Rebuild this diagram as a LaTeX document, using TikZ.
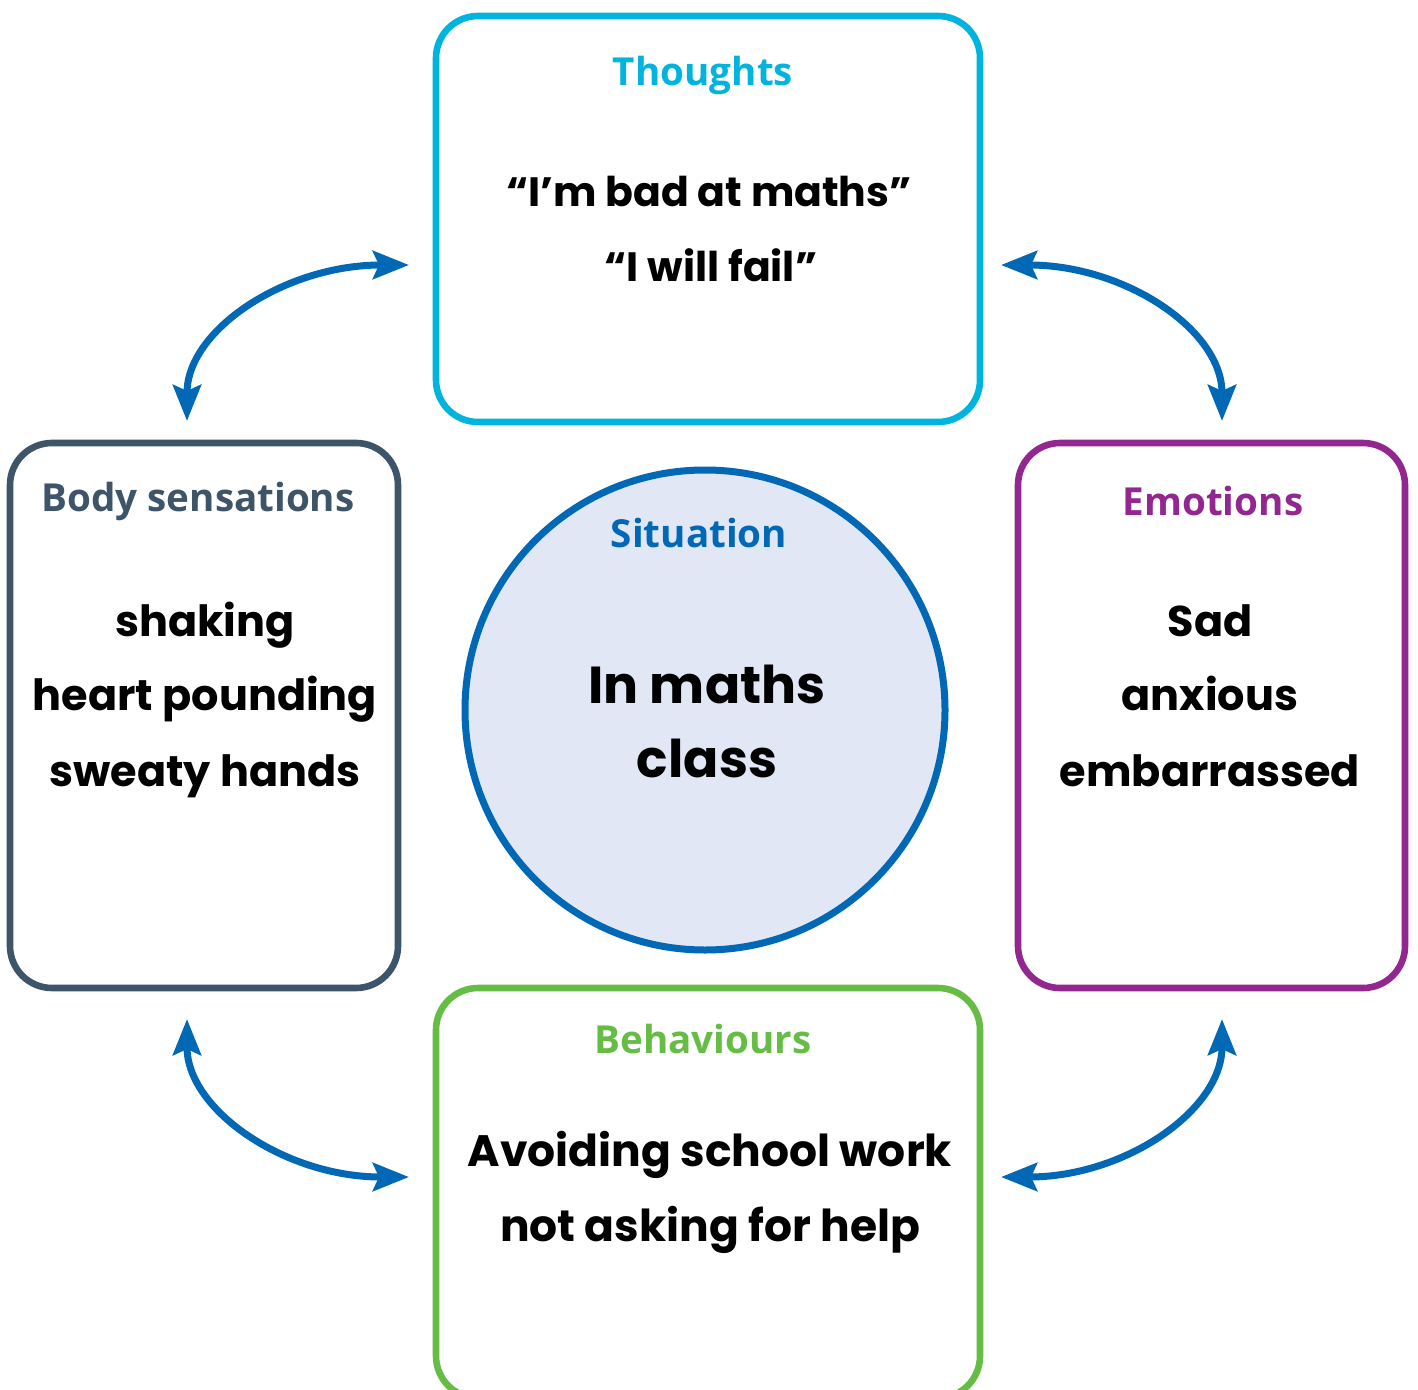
\documentclass[tikz,border=0pt]{standalone}
\usepackage{fontspec}
\setmainfont{Open Sans}
\newfontfamily\handfont{Poppins}
\usetikzlibrary{arrows.meta}
\definecolor{thoughtc}{HTML}{00B4DE}
\definecolor{bodyc}{HTML}{3E5468}
\definecolor{emoc}{HTML}{92278F}
\definecolor{behc}{HTML}{66BD45}
\definecolor{sitc}{HTML}{0068B5}
\definecolor{sitfill}{HTML}{E1E7F5}
\begin{document}
\begin{tikzpicture}[x=0.5pt,y=-0.5pt,
  box/.style={draw, line width=3.3pt, rounded corners=21pt, fill=white, inner sep=0pt},
  head/.style={font=\fontsize{19.3}{22}\selectfont\bfseries, anchor=base, inner sep=0pt},
  txt/.style={font=\handfont\fontsize{21.5}{26}\selectfont\bfseries, anchor=base, inner sep=0pt},
  bigtxt/.style={font=\handfont\fontsize{26}{30}\selectfont\bfseries, anchor=base, inner sep=0pt},
  arr/.style={draw=sitc, line width=3.5pt,
    {Stealth[length=18pt,width=14pt,inset=3pt]}-{Stealth[length=18pt,width=14pt,inset=3pt]}}
]
\clip (0,0) rectangle (1418,1390);
\fill[white] (0,0) rectangle (1418,1390);

% boxes
\node[box, draw=thoughtc, minimum width=272pt, minimum height=203pt] (thoughts) at (708,219) {};
\node[box, draw=bodyc, minimum width=194pt, minimum height=272.5pt] (body) at (204,715.5) {};
\node[box, draw=emoc, minimum width=193.5pt, minimum height=272.5pt] (emo) at (1211.5,715.5) {};
\node[box, draw=behc, minimum width=272pt, minimum height=205pt] (beh) at (708,1193) {};
\node[circle, draw=sitc, fill=sitfill, line width=3.5pt, minimum size=240pt, inner sep=0pt] (sit) at (705,710) {};

% headers
\node[head, text=thoughtc] (thoughtsh) at (703,86) {Thoughts};
\node[head, text=bodyc] (bodyh) at (198,511) {Body sensations};
\node[head, text=emoc] (emoh) at (1213,515) {Emotions};
\node[head, text=sitc] (sith) at (699,547) {Situation};
\node[head, text=behc] (behh) at (703,1053) {Behaviours};

% contents
\node[txt, font=\handfont\fontsize{20.5}{26}\selectfont\bfseries] (t1) at (709,207) {“I’m bad at maths”};
\node[txt, font=\handfont\fontsize{20.5}{26}\selectfont\bfseries] (t2) at (711,282) {“I will fail”};
\node[txt] (b1) at (205,636) {shaking};
\node[txt] (b2) at (205,710) {heart pounding};
\node[txt] (b3) at (205,786) {sweaty hands};
\node[txt] (e1) at (1210,636) {Sad};
\node[txt] (e2) at (1210,710) {anxious};
\node[txt] (e3) at (1210,786) {embarrassed};
\node[bigtxt] (s1) at (707,703) {In maths};
\node[bigtxt] (s2) at (707,777) {class};
\node[txt, font=\handfont\fontsize{22}{26}\selectfont\bfseries] (h1) at (710,1166) {Avoiding school work};
\node[txt, font=\handfont\fontsize{22}{26}\selectfont\bfseries] (h2) at (710,1241) {not asking for help};

% arrow ends
\coordinate (tlA) at (187,421);
\coordinate (tlB) at (409,265);
\coordinate (trA) at (1001,265);
\coordinate (trB) at (1222,421);
\coordinate (blA) at (187,1019);
\coordinate (blB) at (409,1177);
\coordinate (brA) at (1001,1177);
\coordinate (brB) at (1222,1019);

\draw[arr] (tlA) .. controls (187,330) and (285,265) .. (tlB);
\draw[arr] (trA) .. controls (1125,265) and (1222,330) .. (trB);
\draw[arr] (blA) .. controls (187,1110) and (285,1177) .. (blB);
\draw[arr] (brA) .. controls (1125,1177) and (1222,1110) .. (brB);
\end{tikzpicture}
\end{document}
